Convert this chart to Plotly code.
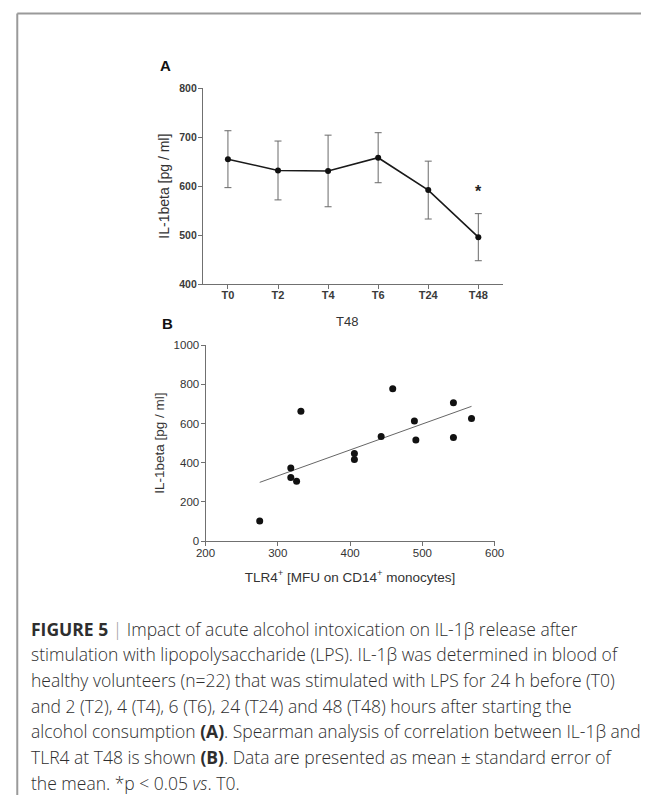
import numpy as np
import plotly.graph_objects as go

W, H = 651, 801

# Panel A: IL-1beta after LPS stimulation over time (mean ± SEM)
timepoints = ["T0", "T2", "T4", "T6", "T24", "T48"]
il1b_mean = [655, 632, 631, 658, 592, 496]
il1b_sem = [58, 60, 73, 51, 59, 48]
signif_label = "*"
signif_point = "T48"
signif_level = 598

# Panel B: TLR4 expression vs IL-1beta at T48
tlr4_mfu = [275, 318, 318, 326, 332, 406, 406, 443, 459, 489, 491, 543, 543, 568]
il1b_t48 = [103, 373, 325, 306, 663, 447, 417, 534, 777, 613, 516, 706, 529, 626]

caption_lines = [
    "<b>FIGURE 5</b> <span style='color:#9a9a9a'>|</span> Impact of acute alcohol intoxication on IL-1β release after",
    "stimulation with lipopolysaccharide (LPS). IL-1β was determined in blood of",
    "healthy volunteers (n=22) that was stimulated with LPS for 24 h before (T0)",
    "and 2 (T2), 4 (T4), 6 (T6), 24 (T24) and 48 (T48) hours after starting the",
    "alcohol consumption <b>(A)</b>. Spearman analysis of correlation between IL-1β and",
    "TLR4 at T48 is shown <b>(B)</b>. Data are presented as mean ± standard error of",
    "the mean. *p &lt; 0.05 <i>vs</i>. T0.",
]


def px_x(v):
    return v / W


def px_y(v):
    return 1 - v / H


AX_FONT = "Liberation Sans, Arial, sans-serif"
CAP_FONT = "Open Sans, Liberation Sans, sans-serif"
AXIS_COLOR = "#707070"

fig = go.Figure()

fig.add_trace(go.Scatter(
    x=timepoints, y=il1b_mean,
    mode="lines+markers",
    line=dict(color="#1a1a1a", width=1.6),
    marker=dict(color="#111111", size=6),
    error_y=dict(type="data", array=il1b_sem, visible=True,
                 color="#6a6a6a", thickness=1, width=3.5),
    xaxis="x", yaxis="y", showlegend=False,
))

# least-squares trend line across the observed TLR4 range
slope, intercept = np.polyfit(tlr4_mfu, il1b_t48, 1)
fit_x = np.array([min(tlr4_mfu), max(tlr4_mfu)])
fig.add_trace(go.Scatter(
    x=fit_x, y=slope * fit_x + intercept,
    mode="lines", line=dict(color="#666666", width=1),
    xaxis="x2", yaxis="y2", showlegend=False,
))
fig.add_trace(go.Scatter(
    x=tlr4_mfu, y=il1b_t48,
    mode="markers", marker=dict(color="#111111", size=7),
    xaxis="x2", yaxis="y2", showlegend=False,
))

axis_common = dict(
    showline=True, linecolor=AXIS_COLOR, linewidth=1,
    ticks="outside", ticklen=4, tickcolor=AXIS_COLOR, tickwidth=1,
    showgrid=False, zeroline=False,
)

fig.update_layout(
    width=W, height=H,
    margin=dict(l=0, r=0, t=0, b=0),
    paper_bgcolor="white", plot_bgcolor="white",
    xaxis=dict(
        axis_common, domain=[px_x(199), px_x(509)], anchor="y",
        type="category", categoryorder="array", categoryarray=timepoints,
        range=[-0.5, 5.5], ticklabelstandoff=-3,
        tickfont=dict(family=AX_FONT, size=11, color="#3a3a3a", weight="bold"),
    ),
    yaxis=dict(
        axis_common, domain=[px_y(282.5), px_y(83.3)], anchor="x",
        range=[400, 800], tickvals=[400, 500, 600, 700, 800],
        ticklabelstandoff=-1,
        tickfont=dict(family=AX_FONT, size=10.5, color="#3a3a3a", weight="bold"),
        title=dict(text="IL-1beta [pg / ml]", standoff=6,
                   font=dict(family=AX_FONT, size=14, color="#333333")),
    ),
    xaxis2=dict(
        axis_common, domain=[px_x(201.7), px_x(500)], anchor="y2",
        range=[200, 600], tickvals=[200, 300, 400, 500, 600],
        ticklabelstandoff=-3,
        tickfont=dict(family=AX_FONT, size=11.5, color="#333333"),
        title=dict(text="TLR4<sup>+</sup> [MFU on CD14<sup>+</sup> monocytes]", standoff=14,
                   font=dict(family=AX_FONT, size=13.5, color="#333333")),
    ),
    yaxis2=dict(
        axis_common, domain=[px_y(543.3), px_y(344.3)], anchor="x2",
        range=[0, 1000], tickvals=[0, 200, 400, 600, 800, 1000],
        ticklabelstandoff=-1,
        tickfont=dict(family=AX_FONT, size=11.5, color="#333333"),
        title=dict(text="IL-1beta [pg / ml]", standoff=5,
                   font=dict(family=AX_FONT, size=13.5, color="#333333")),
    ),
)

annotations = [
    dict(x=signif_point, y=signif_level, xref="x", yref="y", text=signif_label,
         showarrow=False, yanchor="middle", yshift=-4,
         font=dict(family=AX_FONT, size=16, color="#222222", weight="bold")),
    dict(x=px_x(160), y=px_y(60), xref="paper", yref="paper", text="<b>A</b>",
         showarrow=False, xanchor="center", yanchor="middle",
         font=dict(family=AX_FONT, size=15, color="#111111")),
    dict(x=px_x(163), y=px_y(322), xref="paper", yref="paper", text="<b>B</b>",
         showarrow=False, xanchor="center", yanchor="middle",
         font=dict(family=AX_FONT, size=15, color="#111111")),
    dict(x=px_x(348), y=px_y(320), xref="paper", yref="paper", text="T48",
         showarrow=False, xanchor="center", yanchor="middle",
         font=dict(family=AX_FONT, size=13, color="#333333")),
]

for i, line in enumerate(caption_lines):
    annotations.append(dict(
        x=px_x(20), y=px_y(632 + 26.1 * i), xref="paper", yref="paper",
        text=line, showarrow=False, xanchor="left", yanchor="middle", align="left",
        font=dict(family=CAP_FONT, size=17.5, color="#2e2e2e", weight=300),
    ))

fig.update_layout(annotations=annotations)

# page frame along the top and left edges
fig.update_layout(shapes=[
    dict(type="line", xref="paper", yref="paper", x0=px_x(7.5), x1=1,
         y0=px_y(7.5), y1=px_y(7.5), line=dict(color="#9a9a9a", width=2)),
    dict(type="line", xref="paper", yref="paper", x0=px_x(7.5), x1=px_x(7.5),
         y0=px_y(7.5), y1=0, line=dict(color="#9a9a9a", width=2)),
])

fig.write_html("out.html")
